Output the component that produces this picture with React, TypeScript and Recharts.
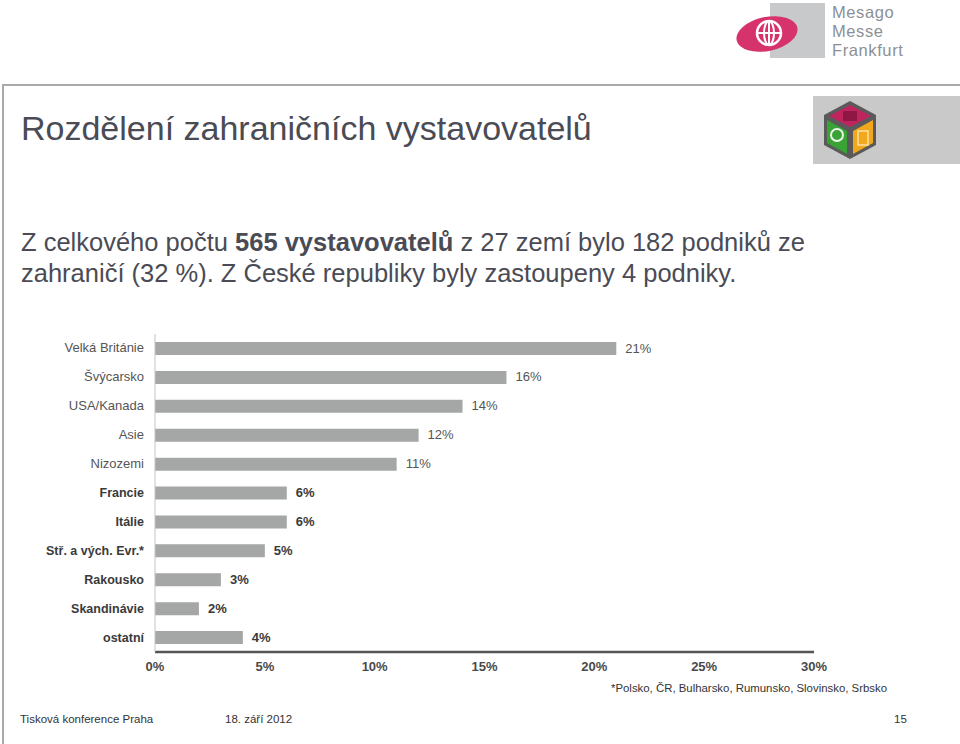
import { BarChart, Bar, XAxis, YAxis, LabelList } from "recharts";

const countries = [
  "Velká Británie",
  "Švýcarsko",
  "USA/Kanada",
  "Asie",
  "Nizozemi",
  "Francie",
  "Itálie",
  "Stř. a vých. Evr.*",
  "Rakousko",
  "Skandinávie",
  "ostatní",
];
const shares = [21, 16, 14, 12, 11, 6, 6, 5, 3, 2, 4];
const xTicks = [0, 5, 10, 15, 20, 25, 30];

const data = countries.map((name, i) => ({ name, share: shares[i] }));

const font = "'Liberation Sans', Arial, sans-serif";

// the last six rows are drawn in bold in the original slide
const isBold = (i: number) => i >= 5;

function CountryTick(props: any) {
  const { x, y, payload, index } = props;
  const bold = isBold(index);
  return (
    <text
      x={x - 3}
      y={y}
      dy={4}
      textAnchor="end"
      fontFamily={font}
      fontSize={bold ? 12.5 : 13}
      fontWeight={bold ? 700 : 400}
      fill={bold ? "#3a3a3a" : "#555"}
    >
      {payload.value}
    </text>
  );
}

function ShareLabel(props: any) {
  const { x, y, width, height, value, index } = props;
  const bold = isBold(index);
  return (
    <text
      x={x + width + 9}
      y={y + height / 2}
      dy={4}
      fontFamily={font}
      fontSize={13}
      fontWeight={bold ? 700 : 400}
      fill={bold ? "#3a3a3a" : "#555"}
    >
      {value}%
    </text>
  );
}

function Logos() {
  const word = {
    position: "absolute" as const,
    left: 832,
    fontFamily: font,
    fontSize: 16.5,
    lineHeight: "19px",
    height: 19,
    letterSpacing: 0.6,
    color: "#8c9096",
    whiteSpace: "nowrap" as const,
  };
  return (
    <>
      <div style={{ position: "absolute", left: 770, top: 3, width: 55, height: 55, background: "#c8c9cb" }} />
      <svg style={{ position: "absolute", left: 734, top: 12 }} width={70} height={44}>
        <ellipse cx={33} cy={22} rx={31} ry={17} fill="#d6336c" transform="rotate(-12 33 22)" />
        <circle cx={35} cy={21} r={12} fill="none" stroke="#fff" strokeWidth={2.5} />
        <line x1={23} y1={21} x2={47} y2={21} stroke="#fff" strokeWidth={2} />
        <line x1={35} y1={9} x2={35} y2={33} stroke="#fff" strokeWidth={2} />
        <ellipse cx={35} cy={21} rx={5} ry={12} fill="none" stroke="#fff" strokeWidth={2} />
      </svg>
      <div style={{ ...word, top: 3 }}>Mesago</div>
      <div style={{ ...word, top: 22 }}>Messe</div>
      <div style={{ ...word, top: 41 }}>Frankfurt</div>
      <div style={{ position: "absolute", left: 813, top: 96, width: 147, height: 68, background: "#c9c9c9" }} />
      <svg style={{ position: "absolute", left: 818, top: 98 }} width={64} height={64}>
        <polygon points="32,3 58,17 58,47 32,61 6,47 6,17" fill="#5a5a5a" />
        <polygon points="32,7 53,18 32,29 11,18" fill="#c0245e" />
        <rect x={25} y={13} width={14} height={10} fill="#8e1744" />
        <polygon points="9,22 29,33 29,56 9,45" fill="#3aa335" />
        <polygon points="35,33 55,22 55,45 35,56" fill="#f2a81d" />
        <circle cx={19} cy={37} r={6} fill="none" stroke="#e9f5e6" strokeWidth={2} />
        <rect x={40} y={33} width={10} height={14} fill="none" stroke="#fbe1a6" strokeWidth={1.5} />
      </svg>
    </>
  );
}

export default function App() {
  return (
    <div
      style={{
        position: "absolute",
        left: 0,
        top: 0,
        width: 960,
        height: 744,
        background: "#fff",
        overflow: "hidden",
        fontFamily: font,
      }}
    >
      <Logos />
      {/* slide frame */}
      <div style={{ position: "absolute", left: 2, top: 84, width: 958, height: 1.5, background: "#a9a9a9" }} />
      <div style={{ position: "absolute", left: 2, top: 84, width: 1.5, height: 660, background: "#a9a9a9" }} />

      <div style={{ position: "absolute", left: 21, top: 108, fontSize: 34, lineHeight: "40px", color: "#4a4b55", whiteSpace: "nowrap" }}>
        Rozdělení zahraničních vystavovatelů
      </div>
      <div
        style={{
          position: "absolute",
          left: 21,
          top: 227,
          width: 900,
          fontSize: 25.5,
          lineHeight: "31px",
          color: "#4a4b55",
          whiteSpace: "nowrap",
        }}
      >
        Z celkového počtu <b>565 vystavovatelů</b> z 27 zemí bylo 182 podniků ze
        <br />
        zahraničí (32 %). Z České republiky byly zastoupeny 4 podniky.
      </div>

      <div style={{ position: "absolute", left: 0, top: 320 }}>
        <BarChart
          width={960}
          height={380}
          data={data}
          layout="vertical"
          margin={{ top: 14, right: 146, bottom: 18, left: 10 }}
          barCategoryGap={0}
        >
          <XAxis
            type="number"
            domain={[0, 30]}
            ticks={xTicks}
            tickFormatter={(v: number) => `${v}%`}
            tickLine={false}
            axisLine={{ stroke: "#555", strokeWidth: 2.5 }}
            tick={{ fontFamily: font, fontSize: 13, fontWeight: 700, fill: "#4a4a4a" }}
            tickMargin={4}
            interval={0}
            height={30}
          />
          <YAxis
            type="category"
            dataKey="name"
            width={145}
            tickLine={false}
            axisLine={{ stroke: "#c4c4c4", strokeWidth: 1 }}
            tick={<CountryTick />}
            interval={0}
          />
          <Bar dataKey="share" fill="#a4a7a6" barSize={13} isAnimationActive={false}>
            <LabelList dataKey="share" content={<ShareLabel />} />
          </Bar>
        </BarChart>
      </div>

      <div style={{ position: "absolute", left: 611, top: 682, fontSize: 11.4, color: "#333", whiteSpace: "nowrap" }}>
        *Polsko, ČR, Bulharsko, Rumunsko, Slovinsko, Srbsko
      </div>

      <div style={{ position: "absolute", left: 20, top: 713, fontSize: 11.5, color: "#333" }}>Tisková konference Praha</div>
      <div style={{ position: "absolute", left: 225, top: 713, fontSize: 11.5, color: "#333" }}>18. září 2012</div>
      <div style={{ position: "absolute", left: 894, top: 713, fontSize: 11.5, color: "#333" }}>15</div>
    </div>
  );
}
